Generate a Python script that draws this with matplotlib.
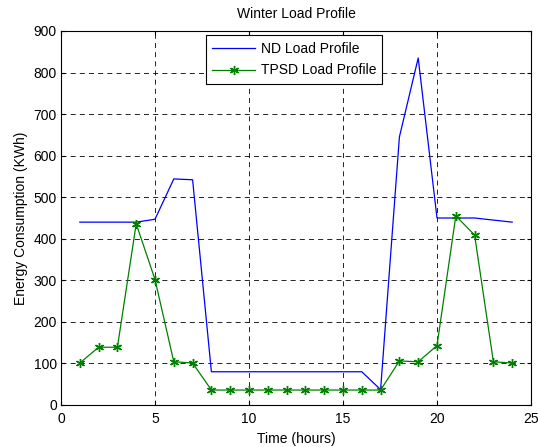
import matplotlib
matplotlib.use("Agg")
import matplotlib.pyplot as plt

hours = list(range(1, 25))
nd_load = [440, 440, 440, 440, 447, 544, 542, 80, 80, 80, 80, 80, 80, 80, 80, 80,
           37, 645, 835, 450, 450, 450, 445, 440]
tpsd_load = [101, 139, 139, 436, 302, 104, 101, 36, 36, 36, 36, 36, 36, 36, 36, 36,
             36, 106, 104, 143, 455, 409, 104, 101]
xticks = [0, 5, 10, 15, 20, 25]
yticks = list(range(0, 1000, 100))

plt.rcParams['font.family'] = ['Liberation Sans', 'DejaVu Sans']
fs = 10
fig = plt.figure(figsize=(5.38, 4.47), dpi=100)
ax = fig.add_axes([61/538, 1 - 405/447, 470/538, 374/447])

ax.plot(hours, nd_load, color='#0000ff', lw=0.9, label='ND Load Profile')
ax.plot(hours, tpsd_load, color='#008000', lw=0.9, marker=(6, 2, 0), ms=6.5,
        mew=1.0, label='TPSD Load Profile')

ax.set_xlim(0, 25)
ax.set_ylim(0, 900)
ax.set_xticks(xticks)
ax.set_yticks(yticks)
ax.tick_params(direction='in', top=True, right=True, labelsize=fs, length=3, pad=3)
ax.tick_params(axis='x', pad=5)
for s in ax.spines.values():
    s.set_linewidth(0.8)
ax.grid(True, color='black', linestyle=(0, (6, 5)), lw=0.6)
ax.set_title('Winter Load Profile', fontsize=fs, pad=9)
ax.set_xlabel('Time (hours)', fontsize=fs, labelpad=4)
ax.set_ylabel('Energy Consumption (KWh)', fontsize=fs, labelpad=4)
leg = ax.legend(loc='upper center', bbox_to_anchor=(0.496, 0.988), fontsize=fs,
                fancybox=False, edgecolor='black', framealpha=1,
                handlelength=3.1, handletextpad=0.4, borderpad=0.45,
                labelspacing=0.55, borderaxespad=0)
leg.get_frame().set_linewidth(0.8)

fig.savefig('out.png', dpi=100)
